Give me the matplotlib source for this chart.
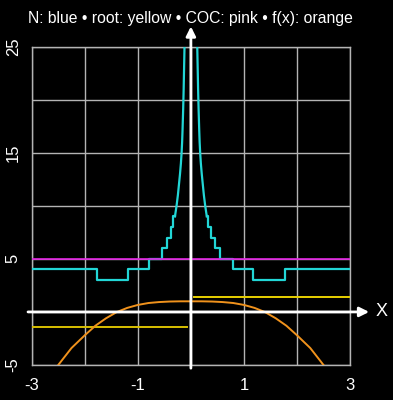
import numpy as np
import matplotlib
matplotlib.use("Agg")
import matplotlib.pyplot as plt

# N: iteration count, symmetric staircase; level[i] holds on |x| in [edge[i], edge[i+1]]
n_edge = [0.112, 0.116, 0.12, 0.124, 0.128, 0.132, 0.136, 0.141, 0.146, 0.152,
          0.158, 0.165, 0.175, 0.188, 0.205, 0.225, 0.245, 0.27, 0.30, 0.33,
          0.38, 0.45, 0.54, 0.79, 1.18, 1.77, 3.0]
n_level = [27, 26, 25, 24, 23, 22, 21, 20, 19, 18, 17, 16, 15, 14, 13, 12, 11,
           10, 9, 8, 7, 6, 5, 4, 3, 4]

# root reached (yellow)
root_left_x = [-3.0, -0.07]
root_left_y = [-1.41, -1.41]
root_right_x = [0.06, 3.0]
root_right_y = [1.41, 1.41]

# COC (pink)
coc_x = [-3.0, 3.0]
coc_y = [5.0, 5.0]

# f(x) (orange)
f_x = [-2.5, -2.25, -2.0, -1.8, -1.6, -1.4, -1.2, -1.0, -0.8, -0.6, -0.4, -0.2, 0.0,
       0.2, 0.4, 0.6, 0.8, 1.0, 1.2, 1.4, 1.6, 1.8, 2.0, 2.25, 2.5]
f_y = [-5.0, -3.4, -2.2, -1.3, -0.6, -0.02, 0.38, 0.66, 0.84, 0.93, 0.98, 1.0, 1.0,
       1.0, 0.98, 0.93, 0.84, 0.66, 0.38, -0.02, -0.6, -1.3, -2.2, -3.4, -5.0]

x_ticks = [-3, -1, 1, 3]
y_ticks = [-5, 5, 15, 25]

plt.rcParams['font.family'] = ['Liberation Sans', 'DejaVu Sans']

fig = plt.figure(figsize=(3.93, 4.0), dpi=100, facecolor='black')
ax = fig.add_axes([0.0807, 0.0875, 0.81, 0.796])
ax.set_facecolor('black')
ax.set_xlim(-3, 3)
ax.set_ylim(-5, 25)

# grid
ax.set_xticks(np.arange(-3, 4, 1))
ax.set_yticks(np.arange(-5, 30, 5))
ax.grid(True, color='#b4b4b4', lw=1.0)
for s in ax.spines.values():
    s.set_color('#b4b4b4')
    s.set_linewidth(1.0)
ax.tick_params(length=0, labelbottom=False, labelleft=False)

for t in x_ticks:
    ax.text(t, -6.2, str(t), color='white', fontsize=12, ha='center', va='top')
for t in y_ticks:
    ax.text(-3.35, t, str(t), color='white', fontsize=12, ha='center', va='center',
            rotation=90)

# curves: tiny steps near the centre merge into a sloped line
edges = np.array(n_edge)
levels = np.array(n_level + [n_level[-1]], dtype=float)
k = n_level.index(9)
cyan = '#22d6d6'
for sgn in (1, -1):
    ax.plot(sgn * edges[k:], levels[k:], drawstyle='steps-post', color=cyan, lw=1.6, zorder=3)
    ax.plot(sgn * edges[:k + 1], levels[:k + 1], color=cyan, lw=1.6, zorder=3)
ax.plot(coc_x, coc_y, color='#e020e0', lw=1.2, zorder=3)
ax.plot(root_left_x, root_left_y, color='#d8c000', lw=1.4, zorder=3)
ax.plot(root_right_x, root_right_y, color='#e8d000', lw=1.4, zorder=3)
ax.plot(f_x, f_y, color='#f0921c', lw=1.4, zorder=4)

# axes arrows
ax.annotate('', xy=(3.36, 0), xytext=(-3.07, 0), annotation_clip=False, zorder=5,
            arrowprops=dict(arrowstyle='-|>', color='white', lw=2, mutation_scale=14,
                            shrinkA=0, shrinkB=0))
ax.annotate('', xy=(0, 26.9), xytext=(0, -5.3), annotation_clip=False, zorder=5,
            arrowprops=dict(arrowstyle='-|>', color='white', lw=2, mutation_scale=14,
                            shrinkA=0, shrinkB=0))
ax.text(3.6, 0, 'X', color='white', fontsize=13, ha='center', va='center')

ax.set_title('N: blue \u2022 root: yellow \u2022 COC: pink \u2022 f(x): orange',
             color='white', fontsize=11.3, pad=17)

fig.savefig('out.png', dpi=100, facecolor='black')
